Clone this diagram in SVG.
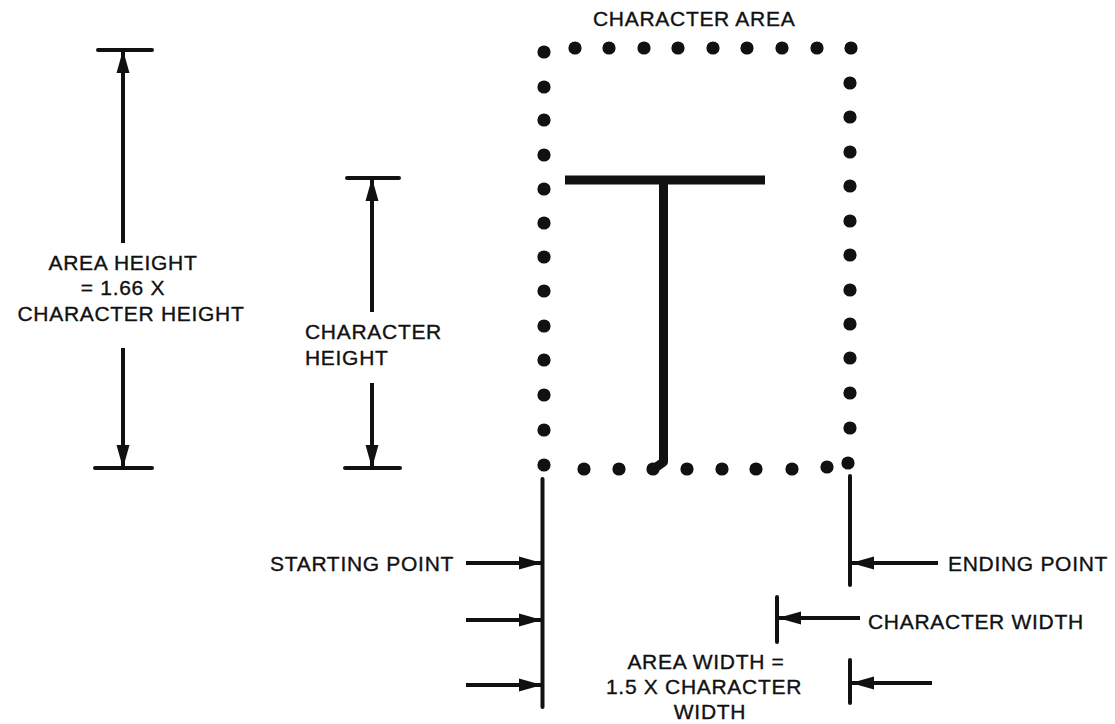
<svg xmlns="http://www.w3.org/2000/svg" width="1115" height="724" viewBox="0 0 1115 724">
<style>
text{font-family:"Liberation Sans",Arial,sans-serif;font-size:21px;letter-spacing:0.7px;fill:#111;stroke:#111;stroke-width:0.35}
.bar{stroke:#111;stroke-width:4;stroke-linecap:round;fill:none}
.dot{fill:#111}
.arr{stroke:#111;stroke-width:4;fill:none;marker-end:url(#ah)}
</style>
<defs>
<marker id="ah" markerUnits="userSpaceOnUse" markerWidth="24" markerHeight="14" refX="23" refY="7" orient="auto" viewBox="0 0 24 14">
<path d="M0,0.5 L23,7 L0,13.5 z" fill="#111"/>
</marker>
<circle id="d" r="6.6"/>
</defs>
<rect width="1115" height="724" fill="#fff"/>

<g id="character-area">
<text x="593" y="26">CHARACTER AREA</text>
<g class="dot">
<use href="#d" x="544" y="52"/><use href="#d" x="575" y="48"/><use href="#d" x="609" y="48"/><use href="#d" x="644" y="48"/><use href="#d" x="678" y="48"/><use href="#d" x="713" y="48"/><use href="#d" x="747" y="48"/><use href="#d" x="782" y="48"/><use href="#d" x="817" y="48"/><use href="#d" x="851" y="48"/>
<use href="#d" x="544" y="87"/><use href="#d" x="544" y="120"/><use href="#d" x="544" y="155"/><use href="#d" x="544" y="189"/><use href="#d" x="544" y="223"/><use href="#d" x="544" y="257"/><use href="#d" x="544" y="291"/><use href="#d" x="544" y="326"/><use href="#d" x="544" y="360"/><use href="#d" x="544" y="395"/><use href="#d" x="544" y="430"/><use href="#d" x="544" y="465"/>
<use href="#d" x="850" y="83"/><use href="#d" x="850" y="117"/><use href="#d" x="850" y="152"/><use href="#d" x="850" y="186"/><use href="#d" x="850" y="221"/><use href="#d" x="850" y="255"/><use href="#d" x="850" y="290"/><use href="#d" x="850" y="324"/><use href="#d" x="850" y="358"/><use href="#d" x="850" y="393"/><use href="#d" x="850" y="428"/><use href="#d" x="848" y="463"/>
<use href="#d" x="584" y="469"/><use href="#d" x="619" y="469"/><use href="#d" x="653" y="469"/><use href="#d" x="687" y="469"/><use href="#d" x="722" y="469"/><use href="#d" x="756" y="469"/><use href="#d" x="792" y="469"/><use href="#d" x="827" y="467"/>
</g>
<g id="letter-T">
<path d="M565,180 H765" stroke="#111" stroke-width="9" fill="none"/>
<path d="M663.5,180 V462 L655,468" stroke="#111" stroke-width="9" fill="none" stroke-linejoin="round"/>
</g>
</g>

<g id="label-area-height">
<text x="123" y="270" text-anchor="middle">AREA HEIGHT</text>
<text x="123" y="295" text-anchor="middle">= 1.66 X</text>
<text x="131" y="321" text-anchor="middle">CHARACTER HEIGHT</text>
</g>
<g id="label-character-height">
<text x="305" y="339">CHARACTER</text>
<text x="305" y="365">HEIGHT</text>
</g>
<g id="label-starting-point"><text x="270" y="571">STARTING POINT</text></g>
<g id="label-ending-point"><text x="948" y="571">ENDING POINT</text></g>
<g id="label-character-width"><text x="868" y="629">CHARACTER WIDTH</text></g>
<g id="label-area-width">
<text x="706" y="669" text-anchor="middle">AREA WIDTH =</text>
<text x="704" y="694" text-anchor="middle">1.5 X CHARACTER</text>
<text x="710" y="719" text-anchor="middle">WIDTH</text>
</g>

<g id="connectors">
<path class="bar" d="M98,50 H152 M95,468 H152"/>
<path class="arr" d="M123,243 V50"/>
<path class="arr" d="M123,348 V468"/>
<path class="bar" d="M347,178 H399 M345,468 H400"/>
<path class="arr" d="M372,312 V178"/>
<path class="arr" d="M372,383 V468"/>
<path class="bar" d="M542.5,479 V707 M850,476 V585 M777,597 V642 M850,660 V703"/>
<path class="arr" d="M466,563 H542"/>
<path class="arr" d="M466,620 H542"/>
<path class="arr" d="M466,685 H542"/>
<path class="arr" d="M938,563 H851"/>
<path class="arr" d="M860,618 H778"/>
<path class="arr" d="M932,683 H851"/>
</g>
</svg>
